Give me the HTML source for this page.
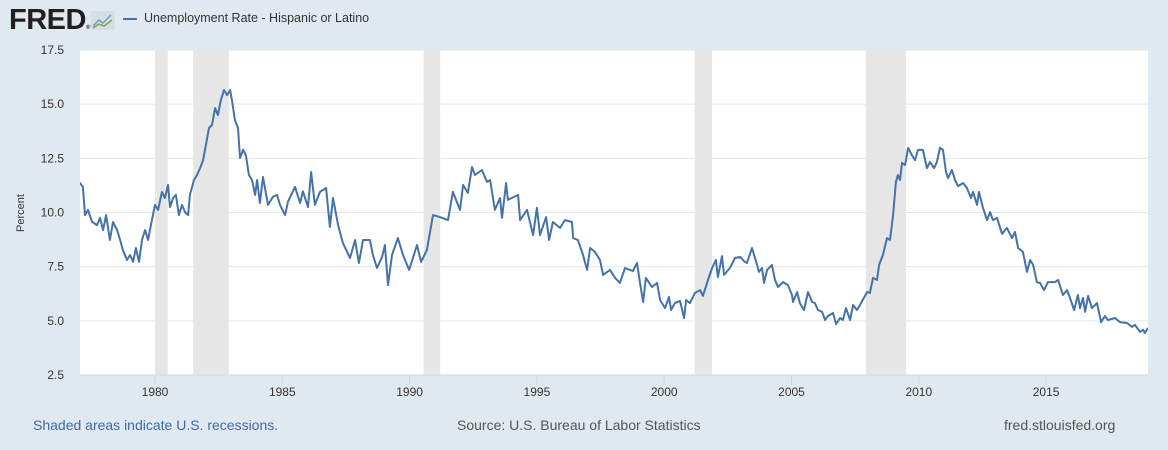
<!DOCTYPE html>
<html><head><meta charset="utf-8"><style>
body{margin:0;width:1168px;height:450px;background:#e1e9f0;font-family:"Liberation Sans",Arial,sans-serif;overflow:hidden;position:relative}
.t{position:absolute;white-space:nowrap}
</style></head><body>
<div class="t" style="left:9px;top:4px;font-size:29px;font-weight:bold;color:#231f20;letter-spacing:-0.5px">FRED<span style="font-size:6px">®</span></div>
<svg style="position:absolute;left:91px;top:11px" width="24" height="19"><rect width="24" height="19" rx="2" fill="#d6dde3"/><polyline points="2,15 8,9 12,12 20,4" fill="none" stroke="#6f9fc8" stroke-width="1.5"/><polyline points="2,17 8,13 13,15 21,9" fill="none" stroke="#7aa84a" stroke-width="1.5"/></svg>
<div style="position:absolute;left:123px;top:18px;width:14px;height:2px;background:#4572a7"></div>
<div class="t" style="left:144px;top:11px;font-size:12.5px;color:#333">Unemployment Rate - Hispanic or Latino</div>
<svg id="chart" style="position:absolute;left:0;top:0" width="1168" height="450"></svg>
<div class="t" style="left:33px;top:417px;font-size:14px;color:#3d6aa5">Shaded areas indicate U.S. recessions.</div>
<div class="t" style="left:457px;top:417px;font-size:14px;color:#555">Source: U.S. Bureau of Labor Statistics</div>
<div class="t" style="left:1004px;top:417px;font-size:14px;color:#555">fred.stlouisfed.org</div>
<script>
const years=[1976.94,1977.05,1977.17,1977.25,1977.37,1977.53,1977.72,1977.84,1977.96,1978.08,1978.23,1978.35,1978.51,1978.63,1978.74,1978.90,1979.02,1979.14,1979.25,1979.37,1979.49,1979.61,1979.73,1979.84,1980.0,1980.12,1980.27,1980.39,1980.51,1980.59,1980.71,1980.82,1980.94,1981.06,1981.18,1981.30,1981.37,1981.53,1981.65,1981.77,1981.89,1982.00,1982.12,1982.24,1982.36,1982.47,1982.59,1982.71,1982.83,1982.95,1983.02,1983.14,1983.26,1983.34,1983.46,1983.57,1983.69,1983.81,1983.93,1984.01,1984.12,1984.24,1984.44,1984.63,1984.79,1984.91,1985.11,1985.22,1985.50,1985.70,1985.81,1986.01,1986.13,1986.28,1986.48,1986.72,1986.87,1986.99,1987.19,1987.38,1987.66,1987.86,1988.01,1988.17,1988.44,1988.56,1988.72,1988.92,1989.03,1989.15,1989.31,1989.54,1989.74,1989.98,1990.29,1990.45,1990.68,1990.92,1991.19,1991.51,1991.70,1991.98,1992.10,1992.29,1992.45,1992.57,1992.84,1993.04,1993.16,1993.35,1993.55,1993.63,1993.79,1993.86,1994.26,1994.34,1994.61,1994.85,1995.00,1995.12,1995.36,1995.48,1995.63,1995.91,1996.10,1996.38,1996.42,1996.61,1996.81,1996.97,1997.09,1997.28,1997.48,1997.60,1997.87,1998.07,1998.26,1998.46,1998.66,1998.77,1998.93,1999.05,1999.17,1999.28,1999.52,1999.72,1999.84,2000.03,2000.19,2000.27,2000.42,2000.62,2000.78,2000.86,2001.01,2001.21,2001.41,2001.52,2001.72,2001.88,2002.03,2002.11,2002.27,2002.35,2002.58,2002.78,2002.98,2003.17,2003.25,2003.45,2003.65,2003.72,2003.84,2003.92,2004.04,2004.23,2004.35,2004.47,2004.67,2004.86,2005.02,2005.06,2005.22,2005.33,2005.49,2005.65,2005.81,2005.92,2006.04,2006.20,2006.32,2006.43,2006.63,2006.75,2006.91,2007.02,2007.14,2007.30,2007.42,2007.57,2007.69,2007.97,2008.08,2008.20,2008.36,2008.44,2008.59,2008.75,2008.87,2008.99,2009.10,2009.18,2009.26,2009.34,2009.46,2009.58,2009.73,2009.85,2009.97,2010.16,2010.32,2010.44,2010.60,2010.71,2010.83,2010.95,2011.07,2011.15,2011.30,2011.42,2011.54,2011.74,2011.89,2012.05,2012.13,2012.29,2012.36,2012.52,2012.68,2012.80,2012.91,2013.07,2013.27,2013.46,2013.66,2013.78,2013.90,2014.09,2014.25,2014.37,2014.49,2014.64,2014.76,2014.92,2015.07,2015.35,2015.47,2015.66,2015.82,2015.94,2016.10,2016.25,2016.33,2016.45,2016.53,2016.65,2016.80,2017.00,2017.16,2017.31,2017.43,2017.71,2017.90,2018.18,2018.37,2018.49,2018.69,2018.81,2018.88,2019.00];
const rates=[11.27,11.36,11.18,9.88,10.12,9.56,9.42,9.75,9.19,9.88,8.73,9.56,9.19,8.73,8.27,7.81,8.04,7.72,8.36,7.72,8.73,9.19,8.73,9.42,10.35,10.12,10.95,10.67,11.27,10.25,10.67,10.81,9.88,10.35,10.02,9.88,10.81,11.50,11.73,12.05,12.42,13.12,13.90,14.04,14.82,14.50,15.19,15.65,15.42,15.65,15.19,14.27,13.90,12.52,12.89,12.65,11.73,11.50,10.81,11.50,10.44,11.64,10.35,10.72,10.81,10.35,9.88,10.49,11.18,10.44,10.98,10.25,11.87,10.35,10.95,11.13,9.33,10.67,9.42,8.59,7.90,8.73,7.67,8.73,8.73,8.04,7.44,7.95,8.50,6.65,8.04,8.82,8.04,7.35,8.50,7.72,8.27,9.88,9.79,9.65,10.95,10.12,11.27,10.90,12.10,11.73,11.96,11.41,11.50,10.12,10.67,9.75,11.36,10.58,10.81,9.65,10.12,8.96,10.21,8.96,9.79,8.73,9.56,9.29,9.65,9.56,8.82,8.73,8.04,7.35,8.36,8.18,7.81,7.12,7.35,6.98,6.75,7.44,7.35,7.30,7.67,6.75,5.87,6.98,6.56,6.75,5.96,5.59,6.10,5.50,5.82,5.92,5.13,5.96,5.82,6.29,6.42,6.15,6.89,7.44,7.81,7.02,7.99,7.12,7.44,7.90,7.95,7.72,7.67,8.36,7.58,7.26,7.44,6.75,7.35,7.58,6.89,6.56,6.79,6.65,6.19,5.87,6.33,5.82,5.50,6.33,5.87,5.82,5.50,5.41,5.04,5.22,5.36,4.85,5.13,5.04,5.59,5.04,5.73,5.50,5.73,6.33,6.29,6.98,6.89,7.58,8.04,8.82,8.73,9.88,11.41,11.73,11.50,12.29,12.19,12.98,12.65,12.42,12.89,12.89,12.05,12.33,12.05,12.33,12.98,12.89,11.87,11.59,11.96,11.50,11.22,11.36,11.13,10.67,10.95,10.35,10.95,10.21,9.65,10.02,9.65,9.75,9.01,9.29,8.82,9.10,8.36,8.18,7.26,7.81,7.58,6.79,6.75,6.42,6.79,6.79,6.89,6.19,6.42,6.06,5.50,6.19,5.59,6.06,5.41,6.15,5.59,5.82,4.94,5.22,5.04,5.13,4.94,4.90,4.72,4.81,4.49,4.59,4.44,4.67];
const recStart=[1980.0,1981.5,1990.55,2001.2,2007.92];
const recEnd=[1980.5,1982.9,1991.2,2001.88,2009.5];
const yTicks=[2.5,5.0,7.5,10.0,12.5,15.0,17.5];
const xTicks=[1980,1985,1990,1995,2000,2005,2010,2015];
const L=80,R=1148,T=50,B=375;
const xs=y=>155+(y-1980)*25.46;
const ys=v=>B-(v-2.5)*(B-T)/15;
const svg=document.getElementById('chart');
const NS='http://www.w3.org/2000/svg';
function mk(tag,at){const e=document.createElementNS(NS,tag);for(const k in at)e.setAttribute(k,at[k]);svg.appendChild(e);return e;}
const bg=mk('rect',{x:L,y:T,width:R-L,height:B-T,fill:'#fff'});


recStart.forEach((s,i)=>{const r=mk('rect',{x:xs(s),y:T,width:xs(recEnd[i])-xs(s),height:B-T,fill:'#e6e6e6'});

});
yTicks.forEach(v=>{const g=mk('line',{x1:L,x2:R,y1:ys(v),y2:ys(v),stroke:v===2.5?'#ccd6eb':'#e6e6e6','stroke-width':1});


const t=mk('text',{x:64,y:ys(v)+4,'text-anchor':'end','font-size':12,fill:'#333','font-family':'Liberation Sans,Arial,sans-serif'});t.textContent=v.toFixed(1);

});
xTicks.forEach(y=>{const l=mk('line',{x1:xs(y),x2:xs(y),y1:B,y2:B+10,stroke:'#ccd6eb'});


const t=mk('text',{x:xs(y),y:B+21,'text-anchor':'middle','font-size':12,fill:'#333','font-family':'Liberation Sans,Arial,sans-serif'});t.textContent=y;

});
const yt=mk('text',{x:24,y:213,'text-anchor':'middle','font-size':11,fill:'#333','font-family':'Liberation Sans,Arial,sans-serif',transform:'rotate(-90 24 213)'});yt.textContent='Percent';


const cp=mk('clipPath',{id:'cp'});
const cr=document.createElementNS(NS,'rect');
cr.setAttribute('x',L);cr.setAttribute('y',T);cr.setAttribute('width',R-L);cr.setAttribute('height',B-T);
cp.appendChild(cr);
const line=mk('polyline',{points:years.map((y,i)=>xs(y).toFixed(1)+','+ys(rates[i]).toFixed(1)).join(' '),fill:'none',stroke:'#4572a7','stroke-width':2,'stroke-linejoin':'round','clip-path':'url(#cp)'});


</script>
</body></html>
